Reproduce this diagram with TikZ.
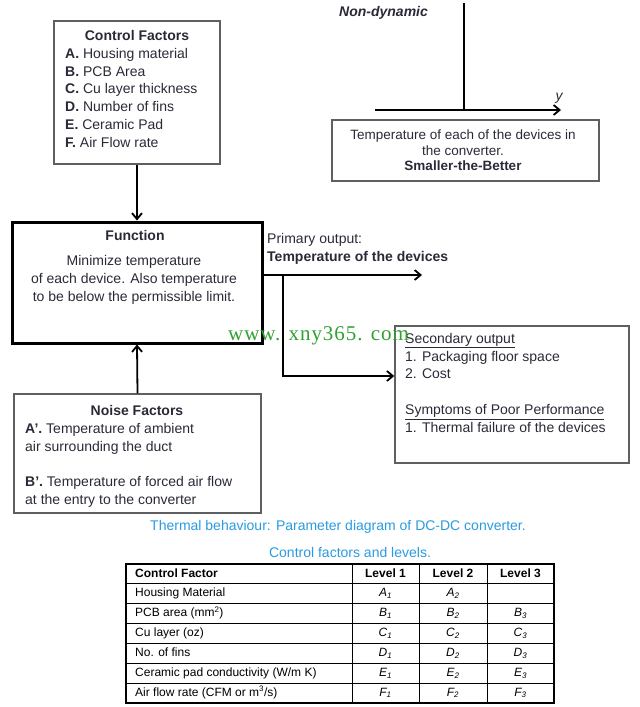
\documentclass[tikz,border=0pt]{standalone}
\usepackage{fontspec}
\setmainfont{Liberation Sans}
\newfontfamily\wmfont[LetterSpace=4.5]{Liberation Serif}
\usetikzlibrary{arrows.meta, positioning, calc}
\definecolor{ink}{RGB}{45,40,55}
\definecolor{frame}{RGB}{95,95,95}
\definecolor{capblue}{RGB}{40,155,225}
\definecolor{wmgreen}{RGB}{50,160,50}
\newcommand{\lv}[2]{\textit{#1\textsubscript{#2}}}

\begin{document}
\begin{tikzpicture}[x=1pt, y=-1pt,
    box/.style={rectangle, draw=frame, line width=1.4pt, inner sep=0pt},
    txt/.style={inner sep=0pt, text=ink, font=\fontsize{14}{17.8}\selectfont},
    head/.style={inner sep=0pt, text=ink, font=\fontsize{14}{17.8}\selectfont\bfseries},
    small/.style={inner sep=0pt, text=ink, font=\fontsize{13.5}{15.5}\selectfont},
    cell/.style={inner sep=0pt, text=black, text height=8.6pt, text depth=2.4pt,
                 font=\fontsize{12}{14}\selectfont},
    flow/.style={-{Straight Barb[length=6pt, width=10pt]}, line width=1.8pt}]

    \useasboundingbox (0,0) rectangle (640,707);

    % parameter diagram
    \node[box, minimum width=166, minimum height=143] (ctrl) at (137,92.5) {};
    \node[head] (ctrltitle) at (137,35) {Control Factors};
    \node[txt, anchor=north west, align=left] (ctrllist) at (65,48)
        {\textbf{A.} Housing material\\ \textbf{B.} PCB Area\\ \textbf{C.} Cu layer thickness\\
         \textbf{D.} Number of fins\\ \textbf{E.} Ceramic Pad\\ \textbf{F.} Air Flow rate};

    \node[box, draw=black, line width=3pt, minimum width=250, minimum height=121] (func) at (137,282.5) {};
    \node[head] (functitle) at (135,235) {Function};
    \node[txt, align=center] (functext) at (134,280)
        {Minimize temperature\\ of each device. Also temperature\\ to be below the permissible limit.};

    \node[box, minimum width=247, minimum height=119] (noise) at (137.5,453.5) {};
    \node[head] (noisetitle) at (137,410) {Noise Factors};
    \node[txt, anchor=north west, align=left] (noiselist) at (25,423)
        {\textbf{A'.} Temperature of ambient\\ air surrounding the duct\\[17.5pt]
         \textbf{B'.} Temperature of forced air flow\\ at the entry to the converter};

    \node[txt, anchor=north west, align=left] (primary) at (267,233)
        {Primary output:\\ \textbf{Temperature of the devices}};

    \node[box, minimum width=234, minimum height=137] (second) at (512,394.5) {};
    \node[txt, anchor=north west, align=left] (secondtext) at (405,333)
        {\underline{Secondary output}\\ 1. Packaging floor space\\ 2. Cost\\[18pt]
         \underline{Symptoms of Poor Performance}\\ 1. Thermal failure of the devices};

    \draw[flow] (ctrl.south) -- (func.north);
    \draw[flow] (noise.north) -- (func.south);

    \coordinate (pout) at (422,275);
    \coordinate (tap) at (283,275);
    \draw[flow] (func.east |- pout) -- (pout);
    \draw[flow] (tap) |- (second.west |- 0,376);

    % response
    \node[txt, font=\fontsize{14}{17}\selectfont\bfseries\itshape, anchor=west] (nondyn) at (339,13) {Non-dynamic};
    \coordinate (ytop) at (464,3);
    \coordinate (ystart) at (375,110);
    \coordinate (yend) at (561,110);
    \draw[line width=1.8pt] (ytop) -- (ytop |- ystart);
    \draw[flow] (ystart) -- (yend);
    \node[txt, font=\fontsize{14}{17}\selectfont\itshape] (ylab) at (559,98) {y};

    \node[box, minimum width=267, minimum height=61] (resp) at (465.5,150.5) {};
    \node[small, align=center] (resptext) at (463,150.5)
        {Temperature of each of the devices in\\ the converter.\\ \textbf{Smaller-the-Better}};

    % captions
    \node[small, font=\fontsize{14}{16}\selectfont, text=capblue] (cap1) at (338,527) {Thermal behaviour: Parameter diagram of DC-DC converter.};
    \node[small, font=\fontsize{14}{16}\selectfont, text=capblue] (cap2) at (350,552) {Control factors and levels.};

    % table
    \draw[line width=1.3pt] (126,564) rectangle (554,703);
    \foreach \i in {1,...,6}
        \draw[line width=0.8pt] (126,{564+\i*19.857}) -- (554,{564+\i*19.857});
    \foreach \x in {352,419,487}
        \draw[line width=0.8pt] (\x,564) -- (\x,703);

    \node[cell, font=\fontsize{12}{14}\selectfont\bfseries, anchor=west] (h0) at (135,574) {Control Factor};
    \node[cell, font=\fontsize{12}{14}\selectfont\bfseries] (h1) at (385.5,574) {Level 1};
    \node[cell, font=\fontsize{12}{14}\selectfont\bfseries] (h2) at (453,574) {Level 2};
    \node[cell, font=\fontsize{12}{14}\selectfont\bfseries] (h3) at (520.5,574) {Level 3};

    \foreach \fac/\la/\lb/\lc [count=\i] in {
        Housing Material/{\lv A1}/{\lv A2}/{},
        {PCB area (mm\textsuperscript{2})}/{\lv B1}/{\lv B2}/{\lv B3},
        Cu layer (oz)/{\lv C1}/{\lv C2}/{\lv C3},
        No. of fins/{\lv D1}/{\lv D2}/{\lv D3},
        {Ceramic pad conductivity (W/m K)}/{\lv E1}/{\lv E2}/{\lv E3},
        {Air flow rate (CFM or m\textsuperscript{3}/s)}/{\lv F1}/{\lv F2}/{\lv F3}}
    {
        \node[cell, anchor=west] (f\i) at (135,{564+19.857*(\i+0.5)}) {\fac};
        \node[cell] (a\i) at (385.5,{564+19.857*(\i+0.5)}) {\la};
        \node[cell] (b\i) at (453,{564+19.857*(\i+0.5)}) {\lb};
        \node[cell] (c\i) at (520.5,{564+19.857*(\i+0.5)}) {\lc};
    }

    % watermark
    \node[inner sep=0pt, anchor=base west, text=wmgreen, font=\wmfont\fontsize{21}{21}\selectfont] (wmark)
        at (228,340) {www. xny365. com};
\end{tikzpicture}
\end{document}
